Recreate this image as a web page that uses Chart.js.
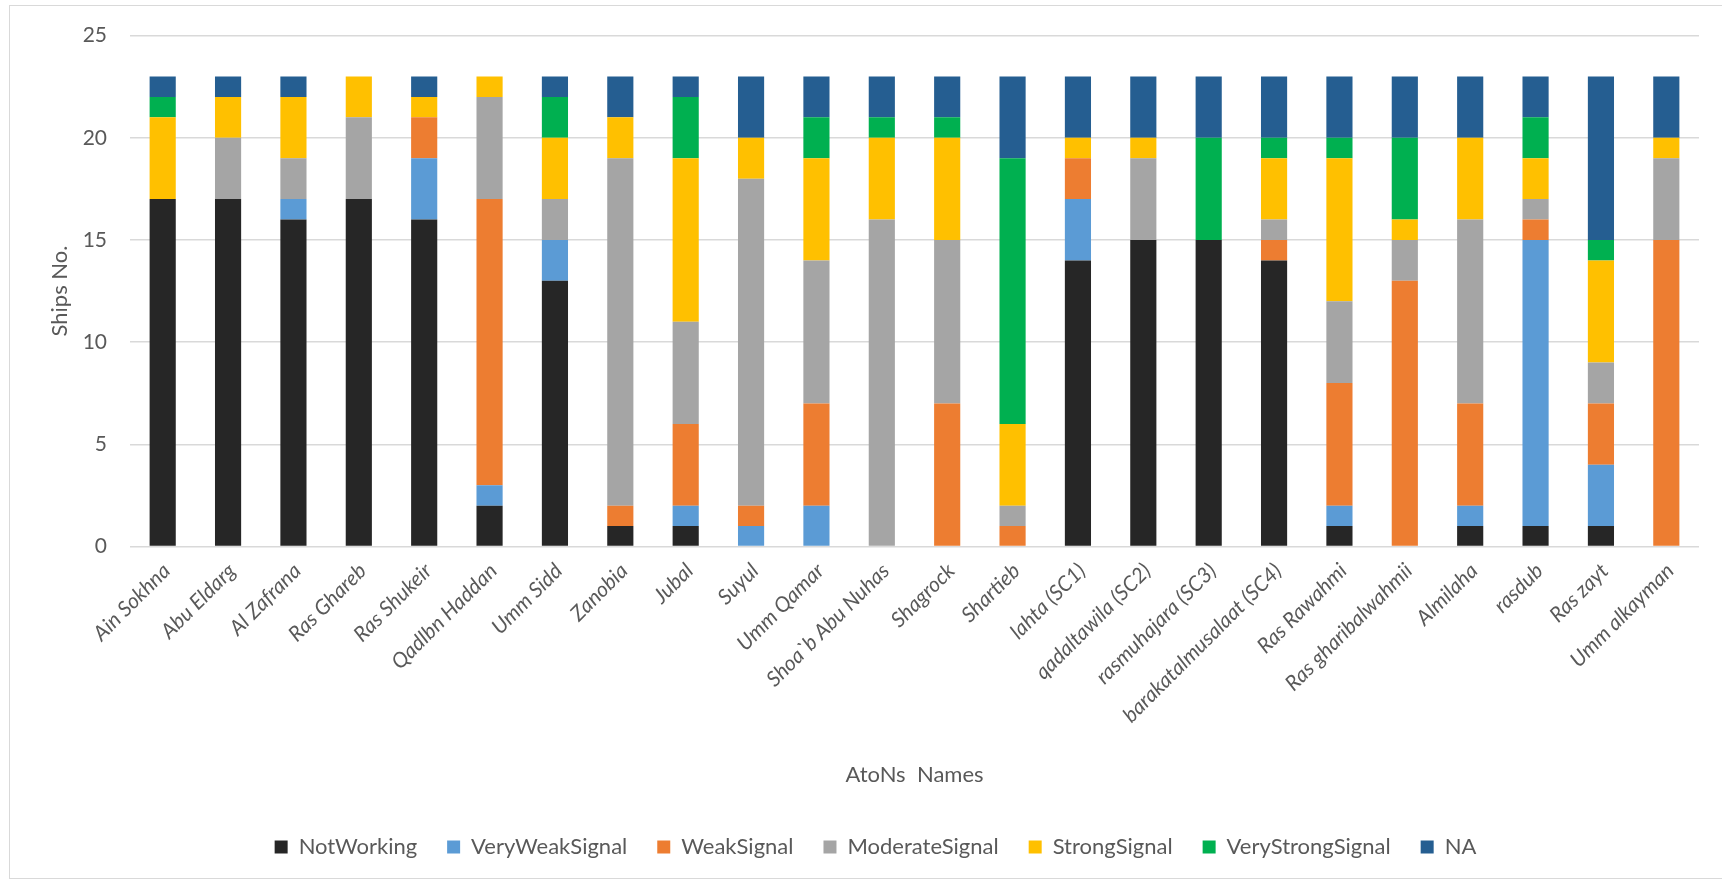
<!DOCTYPE html>
<html>
<head>
<meta charset="utf-8">
<title>AtoNs signal status</title>
<script src="https://cdn.jsdelivr.net/npm/chart.js@4.4.0/dist/chart.umd.min.js"></script>
<style>
  body { margin: 0; background: #fff; overflow: hidden; }
  #frame { position: absolute; left: 9px; top: 5px; width: 1722px; height: 872px; border: 1px solid #d9d9d9; }
  #chart { position: absolute; left: 0; top: 0; }
</style>
</head>
<body>
<div id="frame"></div>
<canvas id="chart" width="1722" height="881"></canvas>
<script>
const names = ['Ain Sokhna', 'Abu Eldarg', 'Al Zafrana', 'Ras Ghareb', 'Ras Shukeir', 'QadIbn Haddan',
  'Umm Sidd', 'Zanobia', 'Jubal', 'Suyul', 'Umm Qamar', 'Shoa`b Abu Nuhas', 'Shagrock', 'Shartieb',
  'lahta (SC1)', 'qadaltawila (SC2)', 'rasmuhajara (SC3)', 'barakatalmusalaat (SC4)', 'Ras Rawahmi',
  'Ras gharibalwahmii', 'Almilaha', 'rasdub', 'Ras zayt', 'Umm alkayman'];

const notWorking       = [17, 17, 16, 17, 16, 2, 13, 1, 1, 0, 0, 0, 0, 0, 14, 15, 15, 14, 1, 0, 1, 1, 1, 0];
const veryWeakSignal   = [0, 0, 1, 0, 3, 1, 2, 0, 1, 1, 2, 0, 0, 0, 3, 0, 0, 0, 1, 0, 1, 14, 3, 0];
const weakSignal       = [0, 0, 0, 0, 2, 14, 0, 1, 4, 1, 5, 0, 7, 1, 2, 0, 0, 1, 6, 13, 5, 1, 3, 15];
const moderateSignal   = [0, 3, 2, 4, 0, 5, 2, 17, 5, 16, 7, 16, 8, 1, 0, 4, 0, 1, 4, 2, 9, 1, 2, 4];
const strongSignal     = [4, 2, 3, 2, 1, 1, 3, 2, 8, 2, 5, 4, 5, 4, 1, 1, 0, 3, 7, 1, 4, 2, 5, 1];
const veryStrongSignal = [1, 0, 0, 0, 0, 0, 2, 0, 3, 0, 2, 1, 1, 13, 0, 0, 5, 1, 1, 4, 0, 2, 1, 0];
const notAvailable     = [1, 1, 1, 0, 1, 0, 1, 2, 1, 3, 2, 2, 2, 4, 3, 3, 3, 3, 3, 3, 3, 2, 8, 3];

const yTicks = [0, 5, 10, 15, 20, 25];

const textColor = '#595959';
const font = 'Lato';

const series = [
  { label: 'NotWorking', data: notWorking, color: '#262626' },
  { label: 'VeryWeakSignal', data: veryWeakSignal, color: '#5b9bd5' },
  { label: 'WeakSignal', data: weakSignal, color: '#ed7d31' },
  { label: 'ModerateSignal', data: moderateSignal, color: '#a5a5a5' },
  { label: 'StrongSignal', data: strongSignal, color: '#ffc000' },
  { label: 'VeryStrongSignal', data: veryStrongSignal, color: '#00b050' },
  { label: 'NA', data: notAvailable, color: '#255e91' }
];

// nudge the legend row so it sits under the middle of the plot
const legendShift = {
  id: 'legendShift',
  afterLayout(chart) {
    chart.legend.left += 26;
    chart.legend.right += 26;
    chart.legend.top -= 3;
    chart.legend.bottom -= 3;
  }
};

new Chart(document.getElementById('chart'), {
  type: 'bar',
  data: {
    labels: names,
    datasets: series.map(s => ({
      label: s.label,
      data: s.data,
      backgroundColor: s.color,
      borderWidth: 0,
      categoryPercentage: 1,
      barPercentage: 0.4
    }))
  },
  options: {
    responsive: false,
    animation: false,
    layout: { padding: { top: 34, right: 23, bottom: 10, left: 0 } },
    plugins: {
      tooltip: { enabled: false },
      legend: {
        position: 'bottom',
        maxHeight: 72,
        labels: {
          color: textColor,
          font: { family: font, size: 22 },
          boxWidth: 13,
          boxHeight: 13,
          padding: 30
        }
      }
    },
    scales: {
      x: {
        stacked: true,
        grid: { display: false, drawTicks: false },
        border: { display: false },
        ticks: {
          color: textColor,
          font: { family: font, size: 21, style: 'italic' },
          minRotation: 45,
          maxRotation: 45,
          autoSkip: false,
          padding: 12,
          labelOffset: 4
        },
        title: {
          display: true,
          text: 'AtoNs  Names',
          color: textColor,
          font: { family: font, size: 22 },
          padding: { top: 0, bottom: 21 }
        },
        afterFit(scale) { scale.height = 262.5; }
      },
      y: {
        stacked: true,
        min: 0,
        max: 25,
        grid: { color: '#d9d9d9', lineWidth: 1.5, drawTicks: false },
        border: { display: false },
        afterBuildTicks(scale) { scale.ticks = yTicks.map(v => ({ value: v })); },
        ticks: {
          color: textColor,
          font: { family: font, size: 21 },
          padding: 23
        },
        title: {
          display: true,
          text: 'Ships No.',
          color: textColor,
          font: { family: font, size: 22 },
          padding: { top: 47, bottom: 0 }
        },
        afterFit(scale) { scale.width = 130; }
      }
    }
  },
  plugins: [legendShift]
});
</script>
</body>
</html>
